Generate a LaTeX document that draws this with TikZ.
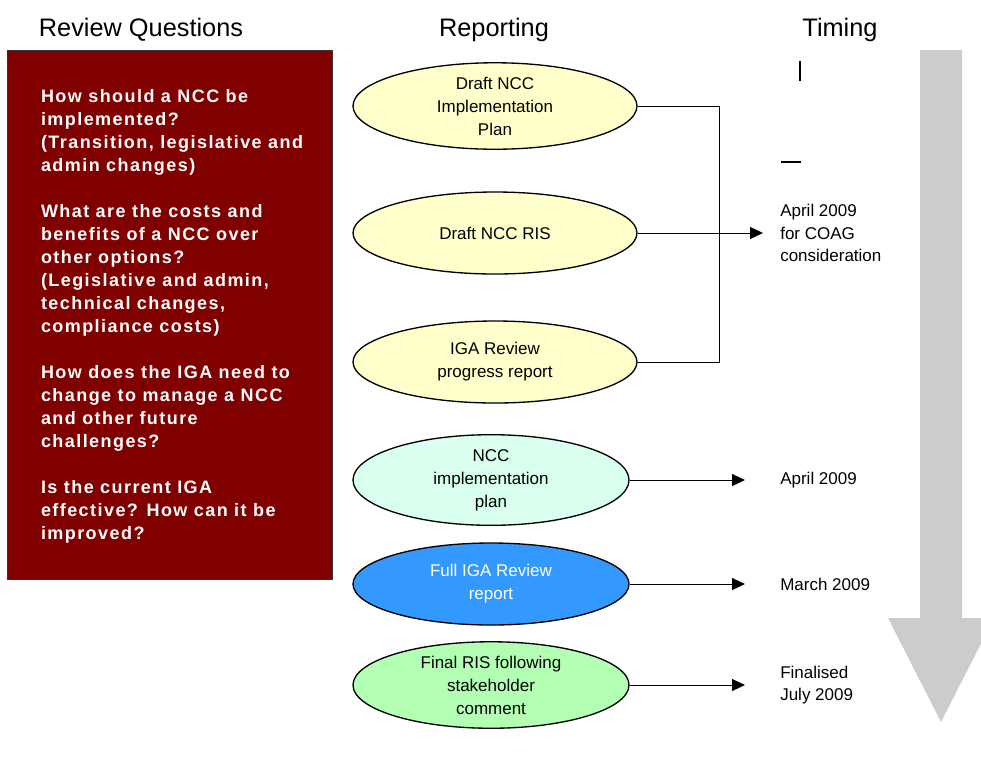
\documentclass[tikz,border=0pt]{standalone}
\usepackage{fontspec}
\setmainfont{Liberation Sans}
\newfontfamily\questfont{Liberation Sans}[LetterSpace=8]
\usetikzlibrary{arrows.meta, shapes.geometric, positioning}

\definecolor{boxred}{HTML}{800000}
\definecolor{draftyellow}{HTML}{FFFFCC}
\definecolor{planmint}{HTML}{D9FFEE}
\definecolor{reviewblue}{HTML}{3399FF}
\definecolor{finalgreen}{HTML}{B3FFB3}
\definecolor{timegrey}{HTML}{CCCCCC}

\tikzset{
    heading/.style={font=\fontsize{19}{23}\selectfont},
    questbox/.style={draw=black!80, fill=boxred, minimum width=243.75pt, minimum height=396.75pt},
    questtext/.style={align=left, inner sep=0pt, text=white, font=\questfont\bfseries\fontsize{13.5}{17.25}\selectfont},
    report/.style={draw, ellipse, line width=1pt, minimum width=213pt, minimum height=61.5pt, inner sep=1pt, align=center, font=\fontsize{12.75}{17.25}\selectfont},
    when/.style={anchor=west, align=left, inner sep=0pt, font=\fontsize{12.75}{17}\selectfont},
    link/.style={line width=0.75pt},
    toward/.style={link, -{Triangle[length=9.75pt, width=9pt]}},
}

\begin{document}
\begin{tikzpicture}[x=0.75pt, y=-0.75pt]
    \useasboundingbox (0,0) rectangle (981,769);

    % Headings
    \node[heading] (hquest) at (141,30) {Review Questions};
    \node[heading] (hreport) at (494,30) {Reporting};
    \node[heading] (htiming) at (840,30) {Timing};

    % Review questions
    \node[questbox] (quest) at (169.5,314.5) {};
    \node[questtext, anchor=west] (questlist) at ([xshift=25.5pt, yshift=-1.5pt]quest.west) {How should a NCC be\\
        implemented?\\
        (Transition, legislative and\\
        admin changes)\\[17.25pt]
        What are the costs and\\
        benefits of a NCC over\\
        other options?\\
        (Legislative and admin,\\
        technical changes,\\
        compliance costs)\\[17.25pt]
        How does the IGA need to\\
        change to manage a NCC\\
        and other future\\
        challenges?\\[17.25pt]
        Is the current IGA\\
        effective? How can it be\\
        improved?};

    % Timeline
    \fill[timegrey] (920,50) -- (962,50) -- (962,618) -- (994,618) -- (941,722) -- (888,618) -- (920,618) -- cycle;
    \draw[line width=1pt] (800,61) -- (800,81);
    \draw[line width=1pt] (781,162) -- (801,162);

    % Reports
    \node[report, fill=draftyellow] (plandraft) at (495,106) {Draft NCC\\Implementation\\Plan};
    \node[report, fill=draftyellow] (risdraft) at (495,233) {Draft NCC RIS};
    \node[report, fill=draftyellow] (progress) at (495,362) {IGA Review\\progress report};
    \node[report, fill=planmint, minimum width=207pt] (plan) at (491,480) {NCC\\implementation\\plan};
    \node[report, fill=reviewblue, text=white, minimum width=207pt] (review) at (491,584) {Full IGA Review\\report};
    \node[report, fill=finalgreen, minimum width=207pt] (risfinal) at (491,685) {Final RIS following\\stakeholder\\comment};

    % Dates
    \node[when] (coag) at (780,233) {April 2009\\for COAG\\consideration};
    \node[when] (planwhen) at (780,480) {April 2009};
    \node[when] (reviewwhen) at (780,584) {March 2009};
    \node[when] (finalwhen) at (780,685) {Finalised\\July 2009};

    % Links
    \coordinate (bus) at (719,0);
    \draw[link] (plandraft.east) -- (plandraft.east -| bus) -- (progress.east -| bus) -- (progress.east);
    \draw[toward, shorten >=12.75pt] (risdraft.east) -- (coag.west);
    \draw[toward, shorten >=26.25pt] (plan.east) -- (planwhen.west);
    \draw[toward, shorten >=26.25pt] (review.east) -- (reviewwhen.west);
    \draw[toward, shorten >=26.25pt] (risfinal.east) -- (finalwhen.west);
\end{tikzpicture}
\end{document}
